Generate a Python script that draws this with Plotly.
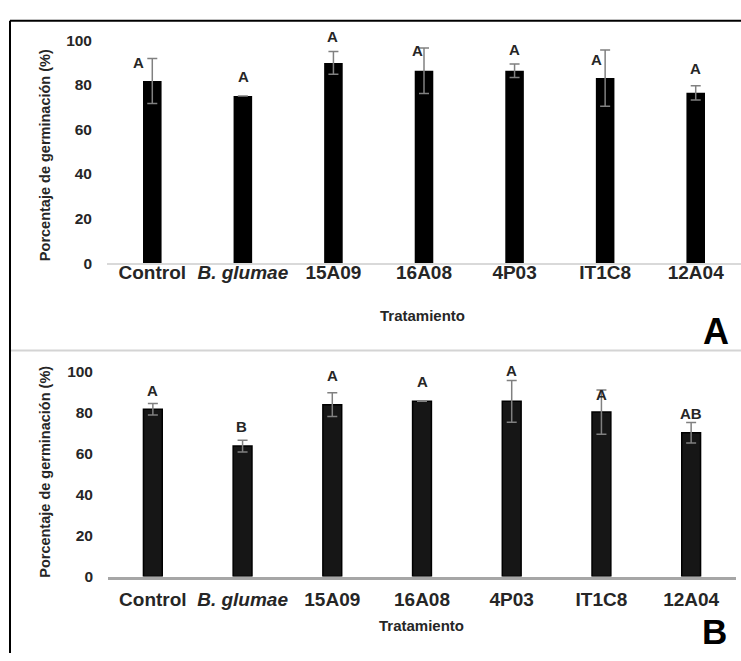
import plotly.graph_objects as go

# Germination percentage per treatment, two experiments (A and B)
categories = ["Control", "B. glumae", "15A09", "16A08", "4P03", "IT1C8", "12A04"]
tick_text = ["Control", "<i>B. glumae</i>", "15A09", "16A08", "4P03", "IT1C8", "12A04"]

germ_a = [81.7, 75.0, 89.8, 86.3, 86.3, 83.0, 76.4]
err_a = [10.1, 0.0, 5.1, 10.2, 3.0, 12.6, 3.2]
letters_a = ["A", "A", "A", "A", "A", "A", "A"]

germ_b = [81.6, 63.6, 83.8, 85.4, 85.4, 80.2, 70.1]
err_b = [2.8, 2.9, 5.8, 0.0, 10.2, 10.8, 5.0]
letters_b = ["A", "B", "A", "A", "A", "A", "AB"]

y_ticks = [0, 20, 40, 60, 80, 100]

W, H = 741, 661


def px_x(p):
    return p / W


def px_y(p):
    return 1 - p / H


TXT = "#262626"
FONT = "Liberation Sans, Arial, sans-serif"

fig = go.Figure()

fig.add_trace(go.Bar(
    x=categories, y=germ_a, xaxis="x", yaxis="y", width=0.205,
    marker=dict(color="#000000", line=dict(width=0)),
    error_y=dict(type="data", array=err_a, visible=True, color="#808080", thickness=1.5, width=5),
    showlegend=False, hoverinfo="x+y",
))
fig.add_trace(go.Bar(
    x=categories, y=germ_b, xaxis="x2", yaxis="y2", width=0.21,
    marker=dict(color="#161616", line=dict(color="#000000", width=1.5)),
    error_y=dict(type="data", array=err_b, visible=True, color="#808080", thickness=1.5, width=5),
    showlegend=False, hoverinfo="x+y",
))

# hand-placed label offsets (px) relative to the top of each error bar
offs_a = [(-14, -4), (1, 19), (-1, 15), (-7, -3), (0, 15), (-9, -10), (0, 17)]
offs_b = [(0, 13), (-1, 14), (0, 17), (0, 20), (0, 10), (0, -5), (0, 9)]

annotations = []
for cat, m, e, lab, (dx, dy) in zip(categories, germ_a, err_a, letters_a, offs_a):
    annotations.append(dict(x=cat, y=m + e, xref="x", yref="y", text=lab, showarrow=False,
                            xshift=dx, yshift=dy, yanchor="middle",
                            font=dict(family=FONT, size=15, color=TXT, weight="bold")))
for cat, m, e, lab, (dx, dy) in zip(categories, germ_b, err_b, letters_b, offs_b):
    annotations.append(dict(x=cat, y=m + e, xref="x2", yref="y2", text=lab, showarrow=False,
                            xshift=dx, yshift=dy, yanchor="middle",
                            font=dict(family=FONT, size=15, color=TXT, weight="bold")))

ytitle = "Porcentaje de germinación (%)"
for cy in (150, 475):
    annotations.append(dict(x=px_x(45), y=px_y(cy), xref="paper", yref="paper", text=ytitle,
                            textangle=-90, showarrow=False, xanchor="center", yanchor="middle",
                            font=dict(family=FONT, size=14.5, color=TXT, weight="bold")))
for cx, cy in ((423, 315), (421, 633)):
    annotations.append(dict(x=px_x(cx), y=px_y(cy), xref="paper", yref="paper", text="Tratamiento",
                            showarrow=False, xanchor="center", yanchor="middle",
                            font=dict(family=FONT, size=15, color=TXT, weight="bold")))
annotations.append(dict(x=px_x(716), y=px_y(331.5), xref="paper", yref="paper", text="A",
                        showarrow=False, xanchor="center", yanchor="middle",
                        font=dict(family=FONT, size=36, color="#000000", weight="bold")))
annotations.append(dict(x=px_x(714), y=px_y(639), xref="paper", yref="paper", text="B",
                        showarrow=False, xanchor="center", yanchor="middle",
                        font=dict(family=FONT, size=35, color="#000000", weight="bold")))

# frame lines around the figure and the separator between panels
shapes = [
    dict(type="line", xref="paper", yref="paper", x0=px_x(10), x1=1, y0=px_y(12), y1=px_y(12),
         line=dict(color="#000000", width=2)),
    dict(type="line", xref="paper", yref="paper", x0=px_x(10), x1=px_x(10), y0=px_y(12), y1=0,
         line=dict(color="#000000", width=2)),
    dict(type="line", xref="paper", yref="paper", x0=px_x(11), x1=1, y0=px_y(350.5), y1=px_y(350.5),
         line=dict(color="#d4d4d4", width=2)),
]

xaxis_common = dict(
    type="category", categoryorder="array", categoryarray=categories,
    tickvals=categories, ticktext=tick_text, ticks="", showgrid=False, zeroline=False,
    tickfont=dict(family=FONT, size=19, color=TXT, weight="bold"), fixedrange=True,
)
yaxis_common = dict(
    range=[0, 100], tickvals=y_ticks, ticks="", showgrid=False, zeroline=False, showline=False,
    tickfont=dict(family=FONT, size=15.5, color=TXT, weight="bold"), ticklabelstandoff=14,
)

fig.update_layout(
    width=W, height=H, margin=dict(l=0, r=0, t=0, b=0),
    paper_bgcolor="white", plot_bgcolor="white",
    xaxis=dict(domain=[px_x(107), 1.0], anchor="y", showline=True, linecolor="#d9d9d9",
               linewidth=1.5, ticklabelstandoff=-9, **xaxis_common),
    yaxis=dict(domain=[px_y(261), px_y(32)], anchor="x", **yaxis_common),
    xaxis2=dict(domain=[px_x(108), px_x(736)], anchor="y2", showline=True, linecolor="#a6a6a6",
                linewidth=2.5, ticklabelstandoff=4, **xaxis_common),
    yaxis2=dict(domain=[px_y(582.5), px_y(372)], anchor="x2", **yaxis_common),
    annotations=annotations, shapes=shapes,
)

fig.write_html("out.html")
